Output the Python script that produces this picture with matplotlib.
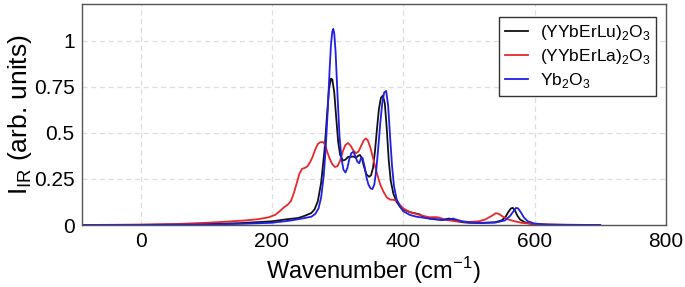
import matplotlib
matplotlib.use("Agg")
import matplotlib.pyplot as plt

# ---- data ----
lu_x = [-90, 0, 100, 150, 200, 220, 240, 250, 260, 265, 270, 275, 280, 284, 287, 290, 292, 295, 298, 301,
        304, 308, 312, 316, 320, 324, 328, 331, 334, 337, 340, 344, 348, 351, 354, 357, 360, 363, 366, 369,
        372, 375, 378, 381, 385, 390, 395, 400, 410, 420, 425, 430, 440, 450, 460, 465, 470, 475, 480, 490,
        500, 520, 540, 550, 556, 560, 564, 567, 570, 574, 578, 585, 595, 610, 650, 700]
lu_y = [0.0, 0.001, 0.005, 0.01, 0.02, 0.03, 0.038, 0.05, 0.065, 0.085, 0.13, 0.23, 0.4, 0.6, 0.74, 0.795,
        0.79, 0.72, 0.58, 0.45, 0.38, 0.35, 0.355, 0.37, 0.37, 0.372, 0.365, 0.375, 0.38, 0.365, 0.32, 0.275,
        0.262, 0.27, 0.31, 0.4, 0.52, 0.63, 0.69, 0.703, 0.66, 0.52, 0.35, 0.24, 0.17, 0.125, 0.1, 0.085,
        0.07, 0.062, 0.058, 0.045, 0.035, 0.03, 0.027, 0.032, 0.035, 0.03, 0.022, 0.015, 0.012, 0.011, 0.015,
        0.025, 0.045, 0.07, 0.09, 0.093, 0.08, 0.05, 0.03, 0.015, 0.006, 0.002, 0.0, 0.0]

la_x = [-90, 0, 50, 100, 130, 160, 180, 195, 205, 212, 218, 224, 229, 234, 238, 242, 246, 250, 254, 258,
        262, 266, 270, 274, 278, 281, 284, 288, 292, 296, 300, 304, 308, 312, 316, 320, 324, 328, 332, 336,
        340, 343, 346, 350, 355, 360, 365, 370, 375, 380, 385, 390, 395, 400, 410, 420, 430, 440, 450, 455,
        465, 480, 500, 515, 525, 535, 541, 546, 552, 560, 570, 580, 600, 650, 700]
la_y = [0.0, 0.002, 0.005, 0.012, 0.018, 0.025, 0.032, 0.042, 0.055, 0.075, 0.095, 0.11, 0.13, 0.18, 0.23,
        0.28, 0.305, 0.31, 0.318, 0.34, 0.37, 0.41, 0.44, 0.45, 0.45, 0.435, 0.4, 0.36, 0.33, 0.315, 0.32,
        0.35, 0.4, 0.435, 0.445, 0.43, 0.405, 0.39, 0.4, 0.43, 0.46, 0.47, 0.46, 0.42, 0.35, 0.28, 0.22, 0.18,
        0.15, 0.138, 0.137, 0.132, 0.11, 0.09, 0.07, 0.06, 0.05, 0.042, 0.043, 0.04, 0.028, 0.02, 0.017, 0.02,
        0.03, 0.05, 0.064, 0.06, 0.045, 0.03, 0.02, 0.012, 0.005, 0.001, 0.0]

yb_x = [-90, 0, 100, 150, 200, 230, 250, 260, 266, 271, 275, 279, 282, 285, 288, 290, 292, 293.5, 295, 297,
        300, 303, 306, 309, 312, 315, 318, 321, 324, 327, 330, 333, 336, 338, 341, 344, 347, 350, 353, 356,
        359, 362, 365, 368, 371, 374, 377, 380, 383, 386, 390, 395, 400, 410, 420, 430, 440, 450, 460, 470,
        476, 482, 490, 500, 515, 540, 555, 563, 568, 572, 575, 579, 584, 590, 600, 620, 700]
yb_y = [0.0, 0.0, 0.003, 0.006, 0.012, 0.025, 0.038, 0.045, 0.06, 0.09, 0.15, 0.27, 0.42, 0.62, 0.85, 0.98,
        1.05, 1.065, 1.04, 0.94, 0.7, 0.48, 0.36, 0.3, 0.285, 0.31, 0.36, 0.39, 0.398, 0.375, 0.345, 0.335,
        0.365, 0.365, 0.32, 0.26, 0.22, 0.2, 0.195, 0.22, 0.3, 0.42, 0.55, 0.66, 0.72, 0.728, 0.65, 0.48, 0.32,
        0.21, 0.14, 0.1, 0.075, 0.055, 0.045, 0.04, 0.035, 0.032, 0.028, 0.03, 0.035, 0.028, 0.02, 0.015,
        0.012, 0.013, 0.025, 0.05, 0.075, 0.093, 0.09, 0.07, 0.04, 0.02, 0.008, 0.002, 0.0]

labels = [r'(YYbErLu)$_\mathregular{2}$O$_\mathregular{3}$',
          r'(YYbErLa)$_\mathregular{2}$O$_\mathregular{3}$',
          r'Yb$_\mathregular{2}$O$_\mathregular{3}$']
colors = ['#111111', '#e8272b', '#1f1fe6']

x_ticks = [0, 200, 400, 600, 800]
y_ticks = [0, 0.25, 0.5, 0.75, 1]
y_tick_labels = ['0', '0.25', '0.5', '0.75', '1']

plt.rcParams['font.family'] = ['Liberation Sans', 'DejaVu Sans']

fig = plt.figure(figsize=(6.85, 2.87), dpi=100)
ax = fig.add_axes([0.119, 0.216, 0.853, 0.770])

for xs, ys, c, lab in zip([lu_x, la_x, yb_x], [lu_y, la_y, yb_y], colors, labels):
    ax.plot(xs, ys, color=c, lw=1.3, label=lab)

ax.set_xlim(-90, 800)
ax.set_ylim(0, 1.2)
ax.set_xticks(x_ticks)
ax.set_yticks(y_ticks)
ax.set_yticklabels(y_tick_labels)
ax.tick_params(length=0, labelsize=15, pad=5)
ax.grid(True, ls=(0, (4, 3)), color='#dddddd', lw=0.9)
ax.set_axisbelow(True)
for s in ax.spines.values():
    s.set_color('#555555')
    s.set_linewidth(1.0)

ax.set_xlabel(r'Wavenumber (cm$^\mathregular{-1}$)', fontsize=17, labelpad=3)
ax.set_ylabel(r'I$_\mathregular{IR}$ (arb. units)', fontsize=19, labelpad=0)

leg = ax.legend(loc='upper right', bbox_to_anchor=(0.984, 0.9425), fontsize=12.5,
                frameon=True, fancybox=False, edgecolor='#333333', framealpha=1,
                handlelength=1.3, handletextpad=0.7, borderpad=0.35, labelspacing=0.3,
                borderaxespad=0)
leg.get_frame().set_linewidth(1.0)

fig.savefig('out.png', dpi=100)
